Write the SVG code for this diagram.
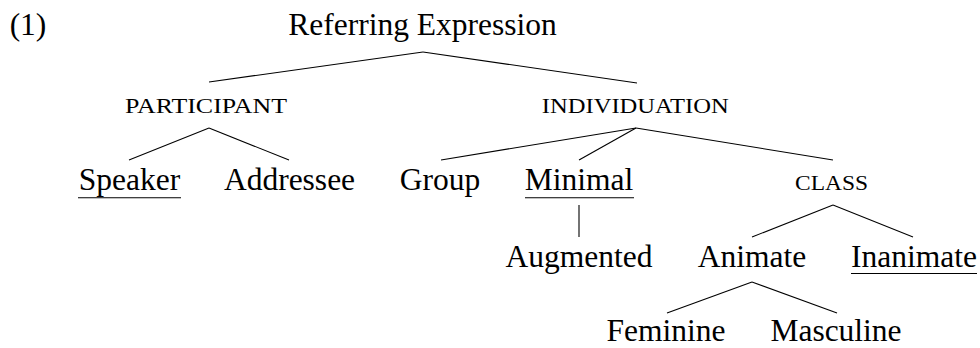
<svg xmlns="http://www.w3.org/2000/svg" width="980" height="348" viewBox="0 0 980 348">
<style>
text{font-family:"Liberation Serif","Times New Roman",serif;fill:#000;text-anchor:middle}
.n{font-size:31.5px}
.sc{font-size:20px}
.e line{stroke:#000;stroke-width:1.1;fill:none}
.u{stroke:#000;stroke-width:1.1}
</style>
<rect width="980" height="348" fill="#fff"/>
<g id="label-1"><text class="n" x="28" y="35">(1)</text></g>
<g id="referring-expression"><text class="n" x="422.5" y="35">Referring Expression</text></g>
<g id="participant"><text class="sc" x="206" y="113" textLength="162" lengthAdjust="spacingAndGlyphs">PARTICIPANT</text></g>
<g id="individuation"><text class="sc" x="635.3" y="113" textLength="187" lengthAdjust="spacingAndGlyphs">INDIVIDUATION</text></g>
<g id="speaker"><text class="n" x="129.5" y="190">Speaker</text><line class="u" x1="78" y1="197.7" x2="181" y2="197.7"/></g>
<g id="addressee"><text class="n" x="289.5" y="190">Addressee</text></g>
<g id="group"><text class="n" x="440" y="190">Group</text></g>
<g id="minimal"><text class="n" x="579" y="190">Minimal</text><line class="u" x1="525" y1="197.7" x2="634" y2="197.7"/></g>
<g id="class"><text class="sc" x="831.5" y="190" textLength="73" lengthAdjust="spacingAndGlyphs">CLASS</text></g>
<g id="augmented"><text class="n" x="579" y="267">Augmented</text></g>
<g id="animate"><text class="n" x="752" y="267">Animate</text></g>
<g id="inanimate"><text class="n" x="914" y="267">Inanimate</text><line class="u" x1="851" y1="273.5" x2="977" y2="273.5"/></g>
<g id="feminine"><text class="n" x="666" y="341">Feminine</text></g>
<g id="masculine"><text class="n" x="836" y="341">Masculine</text></g>
<g id="connectors" class="e">
<line x1="423" y1="52" x2="209" y2="82"/>
<line x1="423" y1="52" x2="637" y2="83"/>
<line x1="209" y1="128" x2="129" y2="160"/>
<line x1="209" y1="128" x2="289" y2="160"/>
<line x1="636" y1="128" x2="441" y2="160"/>
<line x1="636" y1="128" x2="579" y2="160"/>
<line x1="636" y1="128" x2="833" y2="160"/>
<line x1="579" y1="205" x2="579" y2="237"/>
<line x1="833" y1="205" x2="752" y2="237"/>
<line x1="833" y1="205" x2="913" y2="237"/>
<line x1="752" y1="282" x2="667" y2="313"/>
<line x1="752" y1="282" x2="837" y2="313"/>
</g>
</svg>
